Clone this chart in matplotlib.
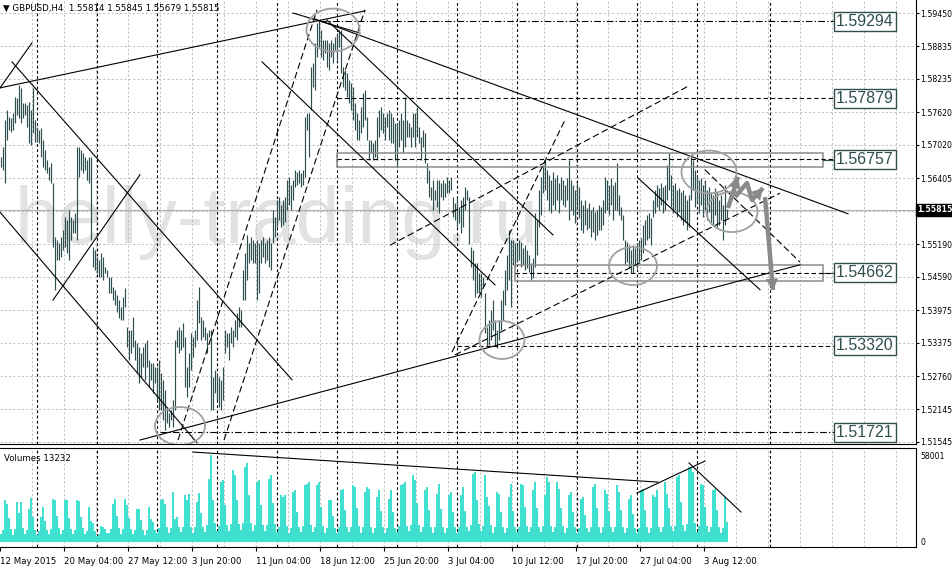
import matplotlib
matplotlib.use("Agg")
import matplotlib.pyplot as plt
from matplotlib.patches import Ellipse, Rectangle
from matplotlib import font_manager as fm

# ---------------- data ----------------
highs = [1.5680,1.5698,1.5748,1.5766,1.5753,1.5752,1.5761,1.5790,1.5788,1.5812,
1.5807,1.5779,1.5779,1.5775,1.5781,1.5766,1.5807,1.5748,1.5735,1.5729,
1.5733,1.5711,1.5693,1.5674,1.5661,1.5669,1.5632,1.5532,1.5527,1.5521,
1.5532,1.5545,1.5569,1.5564,1.5582,1.5569,1.5564,1.5576,1.5698,1.5698,
1.5693,1.5687,1.5680,1.5674,1.5680,1.5680,1.5514,1.5508,1.5495,1.5490,
1.5503,1.5495,1.5477,1.5471,1.5458,1.5458,1.5440,1.5435,1.5425,1.5416,
1.5403,1.5422,1.5438,1.5366,1.5361,1.5361,1.5385,1.5342,1.5337,1.5329,
1.5318,1.5329,1.5337,1.5342,1.5306,1.5300,1.5300,1.5293,1.5293,1.5306,
1.5282,1.5269,1.5250,1.5219,1.5208,1.5213,1.5232,1.5342,1.5361,1.5366,
1.5361,1.5374,1.5348,1.5293,1.5318,1.5355,1.5348,1.5361,1.5416,1.5440,
1.5385,1.5379,1.5366,1.5355,1.5361,1.5361,1.5274,1.5287,1.5282,1.5274,
1.5269,1.5293,1.5361,1.5355,1.5355,1.5366,1.5361,1.5379,1.5392,1.5403,
1.5398,1.5471,1.5503,1.5536,1.5521,1.5532,1.5527,1.5521,1.5527,1.5521,
1.5527,1.5532,1.5521,1.5527,1.5532,1.5521,1.5582,1.5569,1.5600,1.5606,
1.5591,1.5600,1.5606,1.5637,1.5643,1.5628,1.5637,1.5656,1.5652,1.5656,
1.5650,1.5656,1.5753,1.5761,1.5761,1.5845,1.5853,1.5890,1.5927,1.5932,
1.5914,1.5895,1.5895,1.5895,1.5890,1.5895,1.5890,1.5901,1.5908,1.5914,
1.5914,1.5845,1.5840,1.5834,1.5822,1.5816,1.5809,1.5779,1.5761,1.5748,
1.5772,1.5798,1.5803,1.5753,1.5711,1.5711,1.5705,1.5711,1.5753,1.5766,
1.5772,1.5761,1.5753,1.5761,1.5766,1.5761,1.5753,1.5742,1.5742,1.5748,
1.5761,1.5748,1.5790,1.5748,1.5742,1.5735,1.5761,1.5761,1.5772,1.5735,
1.5717,1.5729,1.5724,1.5669,1.5656,1.5624,1.5637,1.5619,1.5637,1.5637,
1.5632,1.5637,1.5632,1.5643,1.5637,1.5643,1.5606,1.5595,1.5606,1.5588,
1.5600,1.5606,1.5624,1.5619,1.5606,1.5514,1.5508,1.5484,1.5484,1.5466,
1.5466,1.5458,1.5429,1.5366,1.5379,1.5398,1.5416,1.5379,1.5361,1.5379,
1.5416,1.5435,1.5471,1.5499,1.5545,1.5527,1.5527,1.5521,1.5517,1.5527,
1.5523,1.5512,1.5517,1.5508,1.5499,1.5484,1.5494,1.5576,1.5564,1.5619,
1.5643,1.5665,1.5674,1.5656,1.5646,1.5637,1.5652,1.5641,1.5646,1.5632,
1.5643,1.5637,1.5628,1.5641,1.5674,1.5637,1.5628,1.5619,1.5632,1.5624,
1.5600,1.5591,1.5600,1.5586,1.5595,1.5582,1.5588,1.5578,1.5582,1.5591,
1.5588,1.5600,1.5643,1.5637,1.5628,1.5641,1.5628,1.5634,1.5669,1.5610,
1.5588,1.5573,1.5527,1.5523,1.5517,1.5508,1.5517,1.5512,1.5521,1.5527,
1.5530,1.5554,1.5564,1.5573,1.5576,1.5567,1.5600,1.5619,1.5628,1.5622,
1.5632,1.5624,1.5628,1.5665,1.5687,1.5646,1.5628,1.5632,1.5619,1.5622,
1.5615,1.5619,1.5610,1.5600,1.5610,1.5680,1.5674,1.5656,1.5646,1.5637,
1.5641,1.5628,1.5637,1.5619,1.5624,1.5615,1.5610,1.5622,1.5615,1.5600,
1.5610,1.5591,1.5628,1.55845]

lows = [1.5661,1.5656,1.5632,1.5711,1.5729,1.5726,1.5729,1.5742,1.5757,1.5752,
1.5742,1.5752,1.5757,1.5735,1.5705,1.5702,1.5724,1.5707,1.5707,1.5705,
1.5680,1.5661,1.5656,1.5650,1.5637,1.5632,1.5514,1.5435,1.5490,1.5490,
1.5495,1.5508,1.5514,1.5503,1.5490,1.5527,1.5540,1.5540,1.5527,1.5643,
1.5656,1.5650,1.5656,1.5637,1.5632,1.5527,1.5477,1.5471,1.5466,1.5458,
1.5458,1.5453,1.5466,1.5458,1.5429,1.5429,1.5416,1.5407,1.5394,1.5383,
1.5379,1.5379,1.5403,1.5329,1.5306,1.5318,1.5329,1.5306,1.5282,1.5263,
1.5274,1.5293,1.5269,1.5293,1.5256,1.5269,1.5245,1.5263,1.5232,1.5213,
1.5213,1.5195,1.5177,1.5189,1.5182,1.5195,1.5182,1.5213,1.5329,1.5318,
1.5324,1.5329,1.5256,1.5237,1.5256,1.5287,1.5311,1.5329,1.5342,1.5374,
1.5342,1.5348,1.5342,1.5318,1.5348,1.5213,1.5213,1.5245,1.5232,1.5219,
1.5213,1.5232,1.5318,1.5329,1.5306,1.5337,1.5329,1.5348,1.5342,1.5366,
1.5366,1.5416,1.5416,1.5453,1.5484,1.5490,1.5484,1.5484,1.5416,1.5429,
1.5484,1.5495,1.5484,1.5490,1.5477,1.5471,1.5521,1.5532,1.5551,1.5564,
1.5551,1.5554,1.5560,1.5582,1.5591,1.5582,1.5600,1.5624,1.5628,1.5632,
1.5624,1.5628,1.5643,1.5729,1.5680,1.5766,1.5809,1.5803,1.5864,1.5882,
1.5864,1.5858,1.5871,1.5845,1.5840,1.5864,1.5853,1.5877,1.5858,1.5882,
1.5834,1.5809,1.5803,1.5790,1.5779,1.5766,1.5748,1.5729,1.5711,1.5711,
1.5724,1.5735,1.5748,1.5711,1.5674,1.5687,1.5674,1.5680,1.5674,1.5717,
1.5729,1.5724,1.5711,1.5735,1.5711,1.5705,1.5705,1.5674,1.5661,1.5698,
1.5711,1.5687,1.5698,1.5717,1.5717,1.5698,1.5717,1.5698,1.5717,1.5705,
1.5674,1.5698,1.5669,1.5632,1.5606,1.5600,1.5582,1.5600,1.5588,1.5576,
1.5606,1.5600,1.5606,1.5613,1.5613,1.5619,1.5569,1.5564,1.5551,1.5558,
1.5540,1.5551,1.5582,1.5600,1.5520,1.5477,1.5453,1.5422,1.5429,1.5429,
1.5422,1.5440,1.5355,1.5329,1.5333,1.5342,1.5361,1.5333,1.5328,1.5342,
1.5361,1.5379,1.5407,1.5435,1.5453,1.5403,1.5481,1.5477,1.5486,1.5490,
1.5477,1.5481,1.5471,1.5475,1.5468,1.5453,1.5457,1.5477,1.5499,1.5551,
1.5573,1.5613,1.5619,1.5600,1.5582,1.5576,1.5591,1.5582,1.5600,1.5576,
1.5600,1.5591,1.5588,1.5600,1.5564,1.5582,1.5573,1.5558,1.5582,1.5567,
1.5545,1.5540,1.5554,1.5545,1.5549,1.5532,1.5541,1.5527,1.5536,1.5545,
1.5545,1.5554,1.5576,1.5582,1.5573,1.5591,1.5564,1.5582,1.5582,1.5573,
1.5564,1.5527,1.5481,1.5486,1.5475,1.5466,1.5466,1.5481,1.5475,1.5486,
1.5490,1.5503,1.5517,1.5527,1.5530,1.5517,1.5569,1.5576,1.5588,1.5582,
1.5591,1.5576,1.5582,1.5600,1.5619,1.5588,1.5576,1.5582,1.5569,1.5578,
1.5564,1.5554,1.5560,1.5545,1.5551,1.5600,1.5619,1.5588,1.5595,1.5576,
1.5591,1.5569,1.5582,1.5564,1.5578,1.5560,1.5554,1.5573,1.5551,1.5554,
1.5564,1.5527,1.5554,1.55679]

volumes = [
5100,7900,27700,25400,15800,8800,  4800,8300,26500,19000,26500,9100,
5300,7600,22000,29500,16800,8200,  4600,7200,16400,23200,14100,7700,
5500,8800,28800,28100,17300,9400,  5000,8100,27700,28100,16200,8700,
5400,7800,27700,27200,16600,9000,  4900,7500,23200,14000,12500,7300,
3800,5200,10800,9700,8500,5600,    5600,8400,25400,28800,17100,9200,
5300,8700,28800,24300,15900,8600,  5100,8000,22000,22000,14300,8100,
4800,7900,23200,15000,13200,7800,  5700,8900,27700,28800,25400,9600,
6100,9300,33300,15300,16500,9800,  6300,9600,31000,27700,32100,10200,
6000,9900,26500,32600,19200,10100, 6800,11200,42300,58000,27700,12400,
7100,10800,40000,41100,24600,11300, 7400,11900,47900,44500,27900,12100,
7900,12300,50100,52800,31500,12800, 6900,10900,40000,41100,24300,11000,
7200,11400,42300,44500,26200,11600, 6300,9800,31000,29900,31000,10300,
6100,9500,33300,34400,20100,10000, 6600,10400,37800,38900,40000,10900,
6400,10100,37800,40000,23300,10600, 5700,9000,28100,28100,17500,9300,
6000,9700,34400,35500,21100,9900,  6200,10000,37800,36600,22300,10300,
6100,9800,33300,36600,35500,10100, 5800,9400,29900,34400,20400,9600,
5900,9200,28800,34400,19900,9500,  6500,10300,37800,38900,40000,10700,
7000,11100,44500,41100,25800,11500, 6200,9900,34400,36600,21500,10200,
6100,9700,32100,38900,21800,9900,  5900,9500,31000,33300,19700,9600,
6000,9600,31000,36600,20500,9800,  7300,11500,45600,46800,28000,11900,
6900,10700,44500,30000,24200,11000, 6100,9600,33300,32100,19800,9900,
6000,9400,29900,38900,20800,9700,  6400,10000,38900,37800,23000,10300,
6300,9800,34400,40000,22600,10100, 6600,10300,31000,43400,40000,10800,
6500,10100,40000,35500,22900,10400, 5900,9300,31000,33300,19900,9600,
5700,9000,28800,29900,18100,9300,  6300,9900,36600,38900,22400,10200,
6100,9600,34400,32100,20300,9800,  6200,9700,37800,33300,21200,10000,
5800,9100,28800,31000,18400,9400,  6100,9500,34400,35500,21000,9900,
6000,9400,31000,29900,34400,9700,  6500,10200,40000,32100,22700,10500,
6900,10800,43400,44500,26800,11200, 7500,12000,50100,50100,46800,12300,
6600,10400,38900,37800,23300,10800, 6300,9800,34400,35500,21300,10100,
6000,9400,29900,13232]

price_ticks = [1.59450, 1.58835, 1.58235, 1.57620, 1.57020, 1.56405, 1.55190,
               1.54590, 1.53975, 1.53375, 1.52760, 1.52145, 1.51545]
grid_prices = price_ticks + [1.55805]
time_labels = ["12 May 2015", "20 May 04:00", "27 May 12:00", "3 Jun 20:00",
               "11 Jun 04:00", "18 Jun 12:00", "25 Jun 20:00", "3 Jul 04:00",
               "10 Jul 12:00", "17 Jul 20:00", "27 Jul 04:00", "3 Aug 12:00"]
time_label_bars = [-0.5, 31.5, 63.5, 95.5, 127.5, 159.5, 191.5, 223.5, 255.5, 287.5, 319.5, 351.5]
week_separators = [18, 48, 78, 108, 138, 168, 198, 228, 258, 288, 318, 348, 384.5]
grid_bars = [15.5 + 16 * k for k in range(28)]

last_price = 1.55815
levels = [1.59294, 1.57879, 1.56757, 1.54662, 1.53320, 1.51721]
level_labels = ["1.59294", "1.57879", "1.56757", "1.54662", "1.53320", "1.51721"]
level_start = [159.5, 168.0, 168.0, 257.0, 228.0, 79.5]
level_style = ["dashdot", "dashed", "dashed", "dashed", "dashed", "dashdot"]
zones = [(168.0, 411.0, 1.56612, 1.56870), (257.0, 411.0, 1.54511, 1.54806)]

solid_lines = [((-0.5, 1.5807), (182, 1.5949)), ((-0.5, 1.5807), (15.5, 1.5890)),
               ((5.5, 1.5855), (145.5, 1.5269)), ((-0.5, 1.5578), (98, 1.5153)),
               ((26, 1.5416), (69.5, 1.5647)), ((69.5, 1.5158), (399.5, 1.5481)),
               ((157, 1.5934), (423.5, 1.5575)), ((163, 1.5932), (276, 1.5536)),
               ((130.5, 1.5855), (247, 1.5444)), ((146, 1.5945), (179.5, 1.5908)),
               ((318.5, 1.5641), (379.5, 1.5435))]
dashed_lines = [((88.5, 1.5158), (158, 1.5951)), ((111.5, 1.5158), (182, 1.5951)),
                ((194.5, 1.5517), (344.5, 1.5812)), ((225.5, 1.5320), (282, 1.5748)),
                ((227, 1.5315), (389.5, 1.5613)), ((352, 1.5656), (399.5, 1.5486))]
circles = [(166, 1.59137, 26.5, 0.0079), (89.5, 1.51839, 25, 0.0070),
           (250.5, 1.53424, 22.5, 0.0070), (316, 1.54788, 24, 0.0070),
           (354, 1.5652, 27.5, 0.0079), (365.5, 1.55783, 25.5, 0.0074)]
arrow_paths = [[(363.5, 1.55857), (368.5, 1.56428)],
               [(367, 1.56059), (373, 1.56317), (375.5, 1.56004), (381, 1.56225)],
               [(382, 1.56059), (386, 1.54345)]]
volume_lines = [((96, 60000), (328.5, 39900)), ((318, 32600), (352, 54000)),
                ((344, 52700), (370, 19900))]

# ---------------- style ----------------
BAR = "#2F4F4F"
VOL = "#40E0D0"
GRID = "#C0C0C0"
names = {f.name for f in fm.fontManager.ttflist}
narrow = "Liberation Sans Narrow" if "Liberation Sans Narrow" in names else None
label_fs = 14 if narrow else 11.5
label_family = narrow if narrow else "Liberation Sans"

W, H = 953, 567
fig = plt.figure(figsize=(W / 100, H / 100), dpi=100)
ax = fig.add_axes([0, (H - 444) / H, 916 / W, 444 / H])
axv = fig.add_axes([0, (H - 547) / H, 916 / W, 99 / H])

XMIN, XMAX = -0.5, 457.5
ax.set_xlim(XMIN, XMAX)
ax.set_ylim(1.51507, 1.59690)
axv.set_xlim(XMIN, XMAX)
axv.set_ylim(-3500, 62700)

for a in (ax, axv):
    for s in ("left", "top"):
        a.spines[s].set_visible(False)
    a.spines["right"].set_color("black")
    a.spines["right"].set_linewidth(0.8)
    a.spines["bottom"].set_linewidth(0.8)
    a.spines["top"].set_linewidth(0.8)
axv.spines["top"].set_visible(True)

# grid
for p in grid_prices:
    ax.axhline(p, color=GRID, lw=0.7, ls=(0, (2.2, 2.2)), zorder=0.5)
for g in grid_bars:
    ax.axvline(g, color=GRID, lw=0.7, ls=(0, (2.2, 2.2)), zorder=0.5)
    axv.axvline(g, color=GRID, lw=0.7, ls=(0, (2.2, 2.2)), zorder=0.5)
for s in week_separators:
    ax.axvline(s, color="black", lw=0.8, ls=(0, (2.5, 2.2)), zorder=1)
    axv.axvline(s, color="black", lw=0.8, ls=(0, (2.5, 2.2)), zorder=1)

# watermark
ax.text(7, 1.5521, "helly-trading.ru", fontsize=57, color="#E2E2E2",
        family="Liberation Sans", va="baseline", ha="left", zorder=0.2)

# bid line
ax.axhline(last_price, color="#B0B0B0", lw=0.8, zorder=0.6)

# price bars
xs = list(range(len(highs)))
ax.vlines(xs, lows, highs, color=BAR, lw=0.85, zorder=2)

# volumes
axv.bar(list(range(len(volumes))), volumes, width=1.12, color=VOL, lw=0, zorder=2)

# zones and levels
for (x0, x1, p0, p1) in zones:
    ax.add_patch(Rectangle((x0, p0), x1 - x0, p1 - p0, fill=False, ec="#8C8C8C", lw=1.1, zorder=3))
    ax.plot([x1, 416.5], [(p0 + p1) / 2] * 2, color="#2F4F4F", lw=0.8, zorder=3)
for lvl, st, x0 in zip(levels, level_style, level_start):
    ls = (0, (6, 2, 1.2, 2)) if st == "dashdot" else (0, (4, 2.5))
    ax.plot([x0, 416.5], [lvl, lvl], color="black", lw=0.8, ls=ls, zorder=3)
for lvl, txt in zip(levels, level_labels):
    ax.text(417.5, lvl, txt, fontsize=label_fs, family=label_family, color="#2F4F4F",
            va="center", ha="left", zorder=5,
            bbox=dict(boxstyle="square,pad=0.12", fc="white", ec="#2F4F4F", lw=1.0))

for (a, b) in solid_lines:
    ax.plot([a[0], b[0]], [a[1], b[1]], color="black", lw=0.8, zorder=3)
for (a, b) in dashed_lines:
    ax.plot([a[0], b[0]], [a[1], b[1]], color="black", lw=0.8, ls=(0, (6, 3)), zorder=3)
for (cx, cy, w, h) in circles:
    ax.add_patch(Ellipse((cx, cy), w, h, fill=False, ec="#A0A0A0", lw=1.3, zorder=4))
for path in arrow_paths:
    px = [p[0] for p in path]
    py = [p[1] for p in path]
    ax.plot(px, py, color="#8A8A8A", lw=3.2, solid_capstyle="butt", zorder=4)
    ax.annotate("", xy=path[-1], xytext=path[-2],
                arrowprops=dict(arrowstyle="-|>,head_length=0.8,head_width=0.45",
                                color="#8A8A8A", lw=0.1, shrinkA=0, shrinkB=0), zorder=4)
for (a, b) in volume_lines:
    axv.plot([a[0], b[0]], [a[1], b[1]], color="black", lw=0.8, zorder=3)

# price axis
ax.yaxis.tick_right()
ax.set_yticks(price_ticks)
ax.set_yticklabels([f"{p:.5f}" for p in price_ticks])
ax.tick_params(axis="y", length=2, width=0.8, labelsize=5.6, pad=0.8, colors="black")
ax.set_xticks([])
fig.text(917.5 / W, 1 - 210 / H, f"{last_price:.5f}", fontsize=5.6, color="white",
         va="center", ha="left", fontweight="bold",
         bbox=dict(boxstyle="square,pad=0.25", fc="black", ec="black"))

# volume axis
axv.yaxis.tick_right()
axv.set_yticks([0, 58001])
axv.set_yticklabels(["0", "58001"])
axv.tick_params(axis="y", length=0, labelsize=5.6, pad=3)
axv.set_xticks(time_label_bars)
axv.set_xticklabels(time_labels, ha="left")
axv.tick_params(axis="x", length=3, width=0.8, labelsize=6.2, pad=4)

# headers
ax.text(0.003, 0.992, "\u25BC GBPUSD,H4  1.55814 1.55845 1.55679 1.55815", transform=ax.transAxes,
        fontsize=6.2, va="top", ha="left", color="black", zorder=6)
axv.text(0.004, 0.94, "Volumes 13232", transform=axv.transAxes, fontsize=6.2,
         va="top", ha="left", color="black", zorder=6)

fig.savefig("out.png", dpi=100, facecolor="white")
